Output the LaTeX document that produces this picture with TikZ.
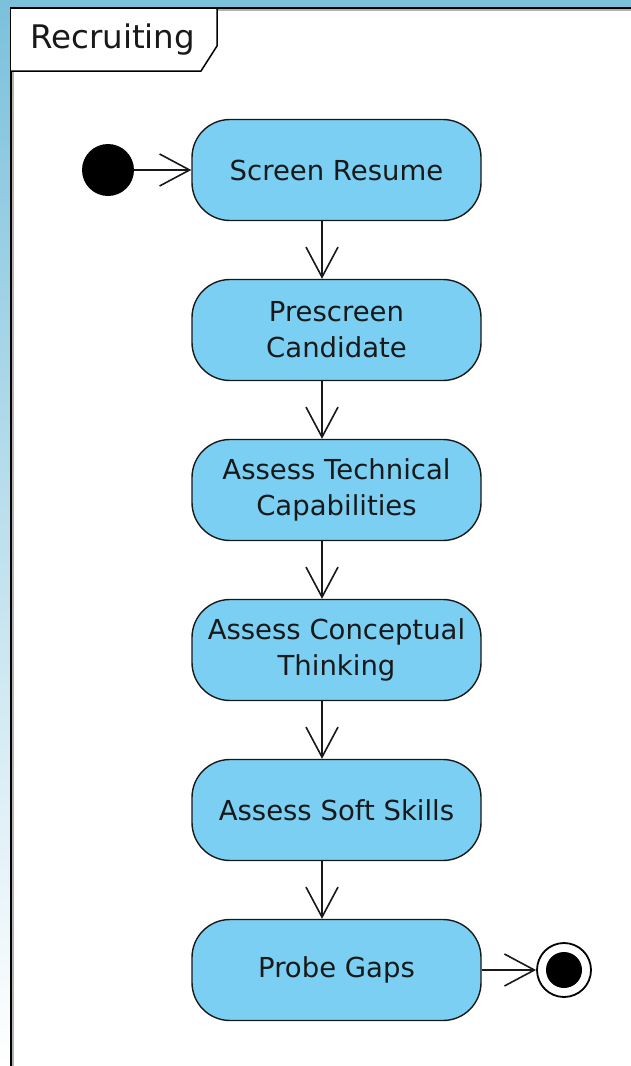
\documentclass[tikz,border=0pt]{standalone}
\usepackage{fontspec}
\setmainfont{DejaVu Sans}
\usetikzlibrary{arrows.meta}
\definecolor{edgeblue}{RGB}{123,193,220}
\definecolor{actfill}{RGB}{122,207,243}
\definecolor{inkdark}{RGB}{25,25,25}
\begin{document}
\begin{tikzpicture}[x=1pt,y=-1pt,
  action/.style={rectangle, rounded corners=38pt, draw=inkdark, line width=1.4pt,
    fill=actfill, minimum width=289pt, minimum height=101pt, inner sep=0pt,
    align=center, text=inkdark, font=\fontsize{27.5}{36}\selectfont},
  flow/.style={draw=inkdark, line width=1.6pt,
    -{Straight Barb[length=30pt,width=32pt,line width=1.6pt]}},
  initial/.style={circle, fill=black, minimum size=52pt, inner sep=0pt},
  final/.style={circle, draw=black, line width=1.8pt, fill=white, minimum size=54pt, inner sep=0pt}]
\useasboundingbox (0,0) rectangle (631,1066);
% window background
\fill[white] (0,0) rectangle (631,1066);
\shade[top color=edgeblue, bottom color=white] (0,0) rectangle (11,1066);
\fill[edgeblue] (0,0) rectangle (631,8);
% diagram frame with its shadow
\draw[black!30, line width=1.6pt] (13.2,1066) -- (13.2,9.8) -- (631,9.8);
\draw[black, line width=2.2pt] (11,1066) -- (11,8) -- (631,8);
% frame name tab
\draw[black, line width=1.5pt, fill=white] (11,8) -- (217,8) -- (217,46) -- (201,71) -- (11,71);
\node[font=\fontsize{32.5}{36}\selectfont, text=inkdark, anchor=west, inner sep=0pt] (title) at (30,40) {Recruiting};
% actions
\node[action] (screen)   at (336.5,170) {Screen Resume};
\node[action] (prescr)   at (336.5,330) {Prescreen\\Candidate};
\node[action] (tech)     at (336.5,490) {Assess Technical\\Capabilities};
\node[action] (concept)  at (336.5,650) {Assess Conceptual\\Thinking};
\node[action] (soft)     at (336.5,810) {Assess Soft Skills};
\node[action] (gaps)     at (336.5,970) {Probe Gaps};
% start and end
\node[initial] (start) at (108,170) {};
\node[final] (end) at (564,970) {};
\fill[black] (end.center) circle (18pt);
% control flow
\draw[flow] (start) -- (screen.west);
\draw[flow] ([xshift=-14.5pt]screen.south) -- ([xshift=-14.5pt]prescr.north);
\draw[flow] ([xshift=-14.5pt]prescr.south) -- ([xshift=-14.5pt]tech.north);
\draw[flow] ([xshift=-14.5pt]tech.south) -- ([xshift=-14.5pt]concept.north);
\draw[flow] ([xshift=-14.5pt]concept.south) -- ([xshift=-14.5pt]soft.north);
\draw[flow] ([xshift=-14.5pt]soft.south) -- ([xshift=-14.5pt]gaps.north);
\draw[flow] (gaps.east) -- (end.west);
\end{tikzpicture}
\end{document}
